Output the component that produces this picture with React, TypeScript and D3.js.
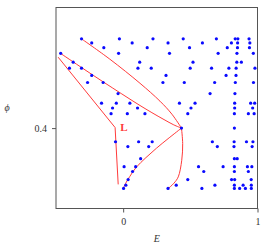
import React, { useEffect, useRef } from 'react';
import * as d3 from 'd3';

// blue points, grouped by phi row
const rowPhi: number[] = [
  0.511, 0.506, 0.5, 0.493, 0.482, 0.4745, 0.4655, 0.4567, 0.443, 0.431, 0.425,
  0.418, 0.4, 0.383, 0.377, 0.362, 0.352, 0.346, 0.336, 0.329, 0.325,
];
const rowE: number[][] = [
  [-0.31, -0.028, 0.222, 0.447, 0.694, 0.834, 0.854, 0.937],
  [-0.234, 0.067, 0.334, 0.59, 0.806, 0.852, 0.943],
  [-0.144, 0.179, 0.494, 0.775, 0.851, 0.94],
  [-0.465, -0.034, 0.345, 0.707, 0.847, 0.969],
  [-0.372, 0.123, 0.52, 0.846, 0.88],
  [-0.4, -0.31, 0.11, 0.209, 0.499, 0.658, 0.787, 0.841, 0.981],
  [-0.234, 0.319, 0.766, 0.84],
  [-0.265, -0.149, 0.296, 0.455, 0.681, 0.835, 0.97],
  [-0.038, 0.647, 0.832],
  [-0.161, -0.051, 0.05, 0.419, 0.535, 0.83, 0.949, 0.979],
  [-0.079, 0.107, 0.505, 0.83, 0.964],
  [-0.09, 0.031, 0.162, 0.481, 0.828, 0.932, 0.975],
  [0.434, 0.828],
  [-0.057, 0.115, 0.216, 0.664, 0.826, 0.918, 0.966],
  [0.035, 0.19, 0.701, 0.825, 0.96],
  [0.13, 0.828, 0.849],
  [0.007, 0.093, 0.561, 0.744, 0.828, 0.925, 0.958],
  [0.07, 0.6, 0.828, 0.932],
  [0.037, 0.481, 0.807, 0.83, 0.953],
  [0.02, 0.395, 0.683, 0.828, 0.893, 0.954],
  [0.003, 0.334, 0.586, 0.828, 0.867, 0.91, 0.954],
];

// red curves, [E, phi]
const upperArc: [number, number][] = [
  [-0.31, 0.511], [-0.099, 0.4857], [0.125, 0.4558], [0.274, 0.4335], [0.363, 0.4173], [0.434, 0.4],
];
const middleArc: [number, number][] = [
  [-0.465, 0.4928], [-0.298, 0.474], [-0.146, 0.4572], [-0.01, 0.4425], [0.11, 0.4297],
  [0.214, 0.4192], [0.304, 0.4106], [0.377, 0.404], [0.434, 0.4],
];
const lPath: [number, number][] = [
  [-0.484, 0.4882], [-0.06, 0.4007], [-0.037, 0.33],
];
const lowerLeftArc: [number, number][] = [
  [0.434, 0.4], [0.334, 0.3868], [0.248, 0.375], [0.169, 0.3632], [0.096, 0.351],
  [0.05, 0.34], [0.018, 0.3312], [0.0015, 0.325],
];
const lowerRightArc: [number, number][] = [
  [0.434, 0.4], [0.443, 0.3808], [0.436, 0.36], [0.41, 0.3393], [0.378, 0.3315], [0.334, 0.3246],
];
const lLabel = { E: -0.021, phi: 0.396, text: 'L' };

const xTicks = [0, 1];
const yTicks = [0.4];

const App: React.FC = () => {
  const ref = useRef<SVGSVGElement>(null);

  const width = 262;
  const height = 247;
  const margin = { top: 7.5, right: 4.5, bottom: 38.5, left: 56 };
  const font = '"Liberation Serif", "DejaVu Serif", serif';

  useEffect(() => {
    const svg = d3.select(ref.current);
    svg.selectAll('*').remove();

    const x = d3.scaleLinear()
      .domain([-0.5, 1])
      .range([margin.left, width - margin.right]);
    const y = d3.scaleLinear()
      .domain([0.3, 0.55])
      .range([height - margin.bottom, margin.top]);

    const xAxis = (g: any) => g
      .attr('transform', `translate(0, ${height - margin.bottom})`)
      .call(d3.axisBottom(x).tickValues(xTicks).tickSize(4).tickPadding(5).tickFormat(d3.format('d')))
      .call(() => g.select('.domain').remove());

    const yAxis = (g: any) => g
      .attr('transform', `translate(${margin.left}, 0)`)
      .call(d3.axisLeft(y).tickValues(yTicks).tickSize(4).tickPadding(5).tickFormat(d3.format('.1f')))
      .call(() => g.select('.domain').remove());

    svg.append('g').call(xAxis);
    svg.append('g').call(yAxis);

    svg.selectAll('.tick line').attr('stroke', '#555');
    svg.selectAll('.tick text')
      .attr('fill', '#333')
      .style('font-family', font)
      .style('font-size', '10px');

    // frame
    svg.append('rect')
      .attr('x', x(-0.5))
      .attr('y', y(0.55))
      .attr('width', x(1) - x(-0.5))
      .attr('height', y(0.3) - y(0.55))
      .attr('fill', 'none')
      .attr('stroke', '#555')
      .attr('stroke-width', 1);

    const line = d3.line<[number, number]>()
      .x((d) => x(d[0]))
      .y((d) => y(d[1]));

    const curves = [upperArc, middleArc, lowerLeftArc, lowerRightArc];
    svg.selectAll('.curve')
      .data(curves)
      .enter()
      .append('path')
      .attr('class', 'curve')
      .attr('d', (d) => line.curve(d3.curveCatmullRom)(d))
      .attr('fill', 'none')
      .attr('stroke', '#ff3b3b')
      .attr('stroke-width', 1);

    svg.append('path')
      .attr('d', line.curve(d3.curveLinear)(lPath))
      .attr('fill', 'none')
      .attr('stroke', '#ff3b3b')
      .attr('stroke-width', 1);

    const points = rowPhi.flatMap((phi, i) => rowE[i].map((e) => ({ e, phi })));
    svg.selectAll('.dot')
      .data(points)
      .enter()
      .append('circle')
      .attr('class', 'dot')
      .attr('cx', (d) => x(d.e))
      .attr('cy', (d) => y(d.phi))
      .attr('r', 1.6)
      .attr('fill', '#0a0aff');

    svg.append('text')
      .attr('x', x(lLabel.E))
      .attr('y', y(lLabel.phi))
      .attr('fill', '#ff3b3b')
      .style('font-family', font)
      .style('font-size', '11px')
      .style('font-weight', 'bold')
      .text(lLabel.text);

    svg.append('text')
      .attr('x', (x(-0.5) + x(1)) / 2)
      .attr('y', height - 5)
      .attr('text-anchor', 'middle')
      .attr('fill', '#333')
      .style('font-family', font)
      .style('font-size', '10px')
      .style('font-style', 'italic')
      .text('E');

    svg.append('text')
      .attr('x', 7)
      .attr('y', (y(0.3) + y(0.55)) / 2 + 3)
      .attr('text-anchor', 'middle')
      .attr('fill', '#333')
      .style('font-family', font)
      .style('font-size', '10px')
      .style('font-style', 'italic')
      .text('ϕ');
  // eslint-disable-next-line react-hooks/exhaustive-deps
  }, []);

  return (
    <svg
      ref={ref}
      width={width}
      height={height}
      style={{ position: 'absolute', left: 0, top: 0, background: '#fff' }}
    />
  );
};

export default App;
